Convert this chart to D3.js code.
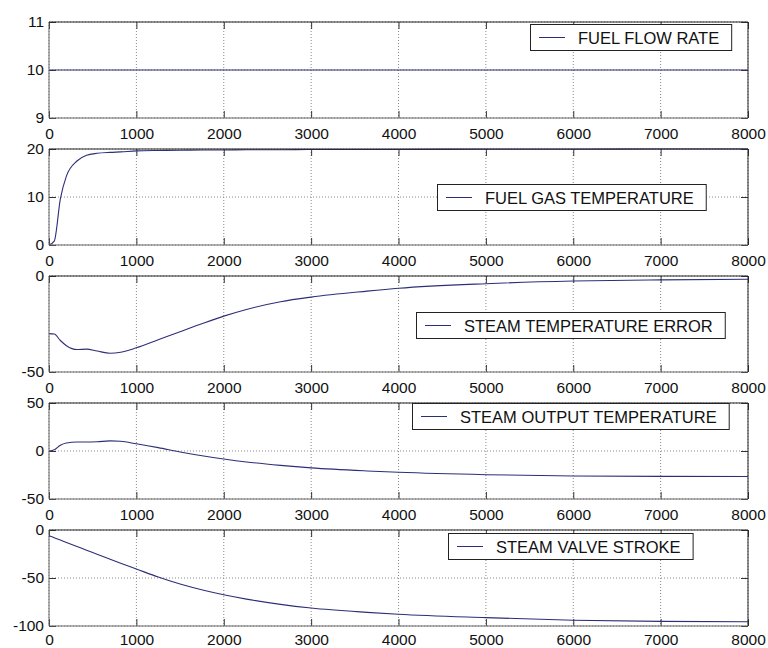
<!DOCTYPE html>
<html>
<head>
<meta charset="utf-8">
<script src="https://cdn.jsdelivr.net/npm/d3@7"></script>
<style>
    body { margin: 0; background: white; }
</style>
</head>
<body>
<div id="canvas"></div>
<script>
"use strict"

/* Data: one shared time axis, five series */
let timeSteps = [0, 60, 130, 200, 320, 430, 550, 700, 820, 1000, 1250, 1500, 1770,
    2000, 2260, 2650, 3000, 3640, 4000, 5000, 6000, 7000, 8000];

let fuelFlowRate = [10, 10, 10, 10, 10, 10, 10, 10, 10, 10, 10, 10, 10,
    10, 10, 10, 10, 10, 10, 10, 10, 10, 10];

let fuelGasTemperature = [0, 0.8, 9.6, 14.4, 17.5, 18.7, 19.1, 19.3, 19.4, 19.6, 19.7, 19.75, 19.8,
    19.8, 19.85, 19.85, 19.9, 19.9, 19.9, 19.95, 19.95, 20, 20];

let steamTemperatureError = [-30, -30.2, -33.6, -36.3, -38.3, -38.1, -39.1, -40.2, -39.7, -37.4, -33.2, -29, -24.5,
    -20.9, -17.4, -13.4, -11.0, -7.9, -6.4, -4.0, -2.6, -2.0, -1.7];

let steamOutputTemperature = [0, 1.2, 6, 8.3, 9.4, 9.4, 9.7, 10.5, 10.1, 7.5, 3.5, -1.0, -5.2,
    -8.3, -11.4, -15.0, -17.6, -20.8, -22.2, -24.7, -26.0, -26.4, -26.5];

let steamValveStroke = [-6, -8, -10.5, -13, -17.2, -21, -25.3, -30.5, -34.6, -40.6, -49, -56.3, -62.8,
    -67.5, -72, -77.5, -81.3, -85.8, -87.8, -91.3, -94, -95.2, -95.5];

let seriesNames = ["FUEL FLOW RATE", "FUEL GAS TEMPERATURE", "STEAM TEMPERATURE ERROR",
    "STEAM OUTPUT TEMPERATURE", "STEAM VALVE STROKE"];

let xTickValues = [0, 1000, 2000, 3000, 4000, 5000, 6000, 7000, 8000];

let yTickValues = [[9, 10, 11], [0, 10, 20], [-50, 0], [-50, 0, 50], [-100, -50, 0]];

let seriesValues = [fuelFlowRate, fuelGasTemperature, steamTemperatureError,
    steamOutputTemperature, steamValveStroke];

/* Configuration variables: drawing */
let svgWidth = 768;
let svgHeight = 648;
let plotLeft = 49;
let plotRight = 748;
let panelTop = 22;
let panelStep = 127;
let panelHeight = 96;
let tickLength = 7;
let lineColor = "#2e2e78";
let fontFamily = "'Liberation Sans', Arial, sans-serif";

/* Legend box corners (left, top) for each panel */
let legendLeft = [530, 437, 416, 412, 448];
let legendTop = [24, 184, 312, 403, 533];

let svg = d3.select("#canvas")
    .append("svg")
    .attr("width", svgWidth)
    .attr("height", svgHeight)
    .style("display", "block");

svg.append("rect")
    .attr("width", svgWidth)
    .attr("height", svgHeight)
    .attr("fill", "white");

let xScale = d3.scaleLinear()
    .domain([0, 8000])
    .range([plotLeft, plotRight]);

let plainFormat = function (d) { return String(d); };

seriesValues.forEach(function (values, i) {
    let top = panelTop + i * panelStep;
    let bottom = top + panelHeight;
    let yTicks = yTickValues[i];

    let yScale = d3.scaleLinear()
        .domain(d3.extent(yTicks))
        .range([bottom, top]);

    let panel = svg.append("g");

    /* dotted grid */
    panel.selectAll(".vgrid")
        .data(xTickValues)
        .join("line")
        .attr("x1", d => xScale(d))
        .attr("x2", d => xScale(d))
        .attr("y1", top)
        .attr("y2", bottom)
        .attr("stroke", "#8a8a8a")
        .attr("stroke-dasharray", "1,2");

    panel.selectAll(".hgrid")
        .data(yTicks)
        .join("line")
        .attr("x1", plotLeft)
        .attr("x2", plotRight)
        .attr("y1", d => yScale(d))
        .attr("y2", d => yScale(d))
        .attr("stroke", "#8a8a8a")
        .attr("stroke-dasharray", "1,2");

    /* inward tick marks on all four sides */
    let tickAxes = [
        [d3.axisBottom(xScale).tickValues(xTickValues), "translate(0," + bottom + ")"],
        [d3.axisTop(xScale).tickValues(xTickValues), "translate(0," + top + ")"],
        [d3.axisLeft(yScale).tickValues(yTicks), "translate(" + plotLeft + ",0)"],
        [d3.axisRight(yScale).tickValues(yTicks), "translate(" + plotRight + ",0)"]
    ];
    tickAxes.forEach(function (t) {
        let g = panel.append("g")
            .attr("transform", t[1])
            .call(t[0].tickSize(-tickLength).tickFormat(""));
        g.select(".domain").remove();
        g.selectAll("line").attr("stroke", "#333");
    });

    /* series line */
    let line = d3.line()
        .x((d, k) => xScale(timeSteps[k]))
        .y(d => yScale(d))
        .curve(d3.curveMonotoneX);

    panel.append("path")
        .datum(values)
        .attr("fill", "none")
        .attr("stroke", lineColor)
        .attr("stroke-width", 1.1)
        .attr("d", line);

    /* box */
    panel.append("path")
        .attr("fill", "none")
        .attr("stroke", "#666")
        .attr("d", "M" + plotLeft + "," + top + "V" + bottom + "H" + plotRight);
    panel.append("path")
        .attr("fill", "none")
        .attr("stroke", "#222")
        .attr("d", "M" + plotLeft + "," + top + "H" + plotRight + "V" + bottom);

    /* tick labels (the last row sits a little higher so it stays inside the page) */
    let xPadding = (i === seriesValues.length - 1) ? 7.5 : 9.5;
    let xLabels = panel.append("g")
        .attr("transform", "translate(0," + bottom + ")")
        .call(d3.axisBottom(xScale).tickValues(xTickValues).tickSize(0).tickPadding(xPadding).tickFormat(plainFormat));
    let yLabels = panel.append("g")
        .attr("transform", "translate(" + plotLeft + ",0)")
        .call(d3.axisLeft(yScale).tickValues(yTicks).tickSize(0).tickPadding(5).tickFormat(plainFormat));
    [xLabels, yLabels].forEach(function (g) {
        g.select(".domain").remove();
        g.attr("font-size", 15.5).attr("font-family", fontFamily);
        g.selectAll("text").attr("fill", "#111");
    });

    /* legend */
    let legend = panel.append("g")
        .attr("transform", "translate(" + legendLeft[i] + "," + legendTop[i] + ")");
    let legendBox = legend.append("rect")
        .attr("x", 0.5)
        .attr("y", 0.5)
        .attr("height", 26)
        .attr("fill", "white")
        .attr("stroke", "#222");
    legend.append("line")
        .attr("x1", 9)
        .attr("x2", 35)
        .attr("y1", 13.5)
        .attr("y2", 13.5)
        .attr("stroke", lineColor);
    let legendText = legend.append("text")
        .attr("x", 48)
        .attr("y", 19.5)
        .attr("font-size", 16.5)
        .attr("font-family", fontFamily)
        .attr("fill", "#111")
        .text(seriesNames[i]);
    legendBox.attr("width", 48 + legendText.node().getComputedTextLength() + 12);
});
</script>
</body>
</html>
